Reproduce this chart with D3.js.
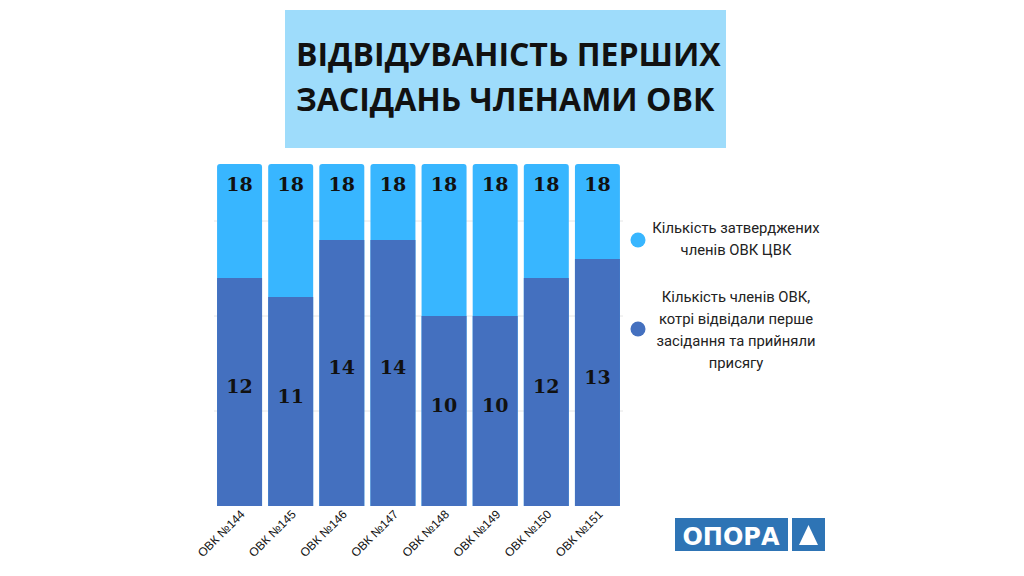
<!DOCTYPE html>
<html><head><meta charset="utf-8">
<script src="https://cdn.jsdelivr.net/npm/d3@7"></script>
<style>body{margin:0;background:#fff}svg{display:block}</style>
</head><body>
<svg id="c" width="1024" height="576"></svg>
<script>
const categories = ["ОВК №144","ОВК №145","ОВК №146","ОВК №147","ОВК №148","ОВК №149","ОВК №150","ОВК №151"];
const approved = [18,18,18,18,18,18,18,18];
const attended = [12,11,14,14,10,10,12,13];
const gridTicks = [5,10,15];
const titleLines = ["ВІДВІДУВАНІСТЬ ПЕРШИХ","ЗАСІДАНЬ ЧЛЕНАМИ ОВК"];
const legendItems = [
  {color:"#38b6ff", lines:["Кількість затверджених","членів ОВК ЦВК"]},
  {color:"#4470bf", lines:["Кількість членів ОВК,","котрі відвідали перше","засідання та прийняли","присягу"]}
];

const svg = d3.select("#c");
const x = d3.scaleBand().domain(categories).range([214,623]).paddingInner(0.12).paddingOuter(0.06);
const y = d3.scaleLinear().domain([0,18]).range([506,164]);

// title box
svg.append("rect").attr("x",285).attr("y",10).attr("width",441).attr("height",138).attr("fill","#9edcfb");
svg.selectAll("text.title").data(titleLines).join("text").attr("class","title")
  .attr("x",296).attr("y",(d,i)=>66+i*45)
  .attr("font-family","'Open Sans', sans-serif").attr("font-weight",700).attr("font-size",32)
  .attr("fill","#111").text(d=>d);

// grid
svg.selectAll("line.grid").data(gridTicks).join("line").attr("class","grid")
  .attr("x1",214).attr("x2",623).attr("y1",d=>y(d)).attr("y2",d=>y(d))
  .attr("stroke","#e6e6e6").attr("stroke-width",1);

// approved bars (rounded top)
svg.selectAll("path.app").data(categories).join("path").attr("class","app")
  .attr("fill","#38b6ff")
  .attr("d",(d,i)=>{
    const x0=x(d), w=x.bandwidth(), y0=y(approved[i]), y1=y(0), r=3;
    return `M${x0},${y1}V${y0+r}Q${x0},${y0} ${x0+r},${y0}H${x0+w-r}Q${x0+w},${y0} ${x0+w},${y0+r}V${y1}Z`;
  });
// attended bars
svg.selectAll("rect.att").data(categories).join("rect").attr("class","att")
  .attr("x",d=>x(d)).attr("width",x.bandwidth())
  .attr("y",(d,i)=>y(attended[i])).attr("height",(d,i)=>y(0)-y(attended[i]))
  .attr("fill","#4470bf");

const lblFont = "'DejaVu Serif', serif";
svg.selectAll("text.appl").data(categories).join("text").attr("class","appl")
  .attr("x",d=>x(d)+x.bandwidth()/2).attr("y",(d,i)=>y(approved[i])+27)
  .attr("text-anchor","middle").attr("font-family",lblFont).attr("font-weight","bold")
  .attr("font-size",19).attr("fill","#111").text((d,i)=>approved[i]);
svg.selectAll("text.attl").data(categories).join("text").attr("class","attl")
  .attr("x",d=>x(d)+x.bandwidth()/2).attr("y",(d,i)=>(y(attended[i])+y(0))/2+1)
  .attr("text-anchor","middle").attr("font-family",lblFont).attr("font-weight","bold")
  .attr("font-size",19).attr("fill","#111").text((d,i)=>attended[i]);

// x labels
svg.selectAll("text.xl").data(categories).join("text").attr("class","xl")
  .attr("transform",d=>`translate(${x(d)+x.bandwidth()/2+6},${515}) rotate(-45)`)
  .attr("text-anchor","end").attr("font-family","'Liberation Sans', Arial, sans-serif")
  .attr("font-size",12).attr("fill","#111").text(d=>d);

// legend
const legY = [240,329];
const lineStarts = [[228,250],[297,319,341,363]];
legendItems.forEach((it,i)=>{
  svg.append("circle").attr("cx",638).attr("cy",legY[i]).attr("r",7.5).attr("fill",it.color);
  svg.selectAll(null).data(it.lines).join("text")
    .attr("x",736).attr("y",(d,j)=>lineStarts[i][j]+5)
    .attr("text-anchor","middle").attr("font-family","Roboto, sans-serif")
    .attr("font-size",14.8).attr("fill","#222").text(d=>d);
});

// logo
svg.append("rect").attr("x",675).attr("y",518).attr("width",113).attr("height",33).attr("fill","#2e74b5");
svg.append("rect").attr("x",792).attr("y",518).attr("width",33).attr("height",33).attr("fill","#2e74b5");
svg.append("text").attr("x",731).attr("y",545).attr("text-anchor","middle")
  .attr("font-family","'DejaVu Sans', sans-serif").attr("font-weight","bold")
  .attr("font-size",24).attr("fill","#fff").text("ОПОРА");
svg.append("path").attr("d","M808.5,525L818,545H799Z").attr("fill","#fff");
</script>
</body></html>
